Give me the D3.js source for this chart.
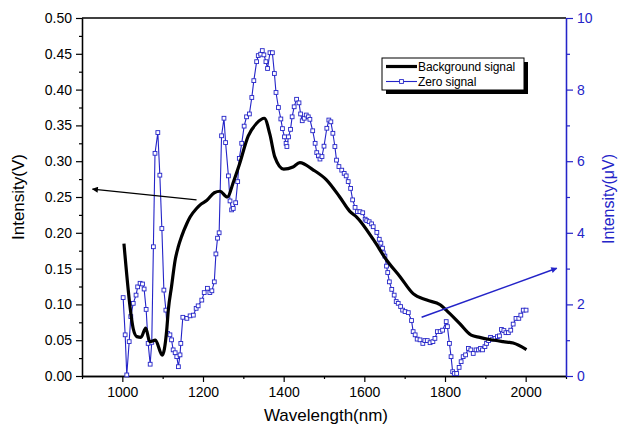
<!DOCTYPE html>
<html>
<head>
<meta charset="utf-8">
<script src="https://cdn.jsdelivr.net/npm/d3@7"></script>
<style>
body { margin: 0; background: #fff; }
text { font-family: Arial, "Liberation Sans", sans-serif; }
</style>
</head>
<body>
<div id="chart"></div>
<script>
var width = 622,
	height = 436;
var margin = {left: 82, right: 56, top: 18, bottom: 60};
var blue = '#2424c8';

// Background signal (V), left axis
var bgWave = [1004, 1021, 1027, 1036, 1046, 1058, 1068, 1082, 1099, 1110, 1114, 1122, 1131, 1139, 1147, 1160,
	1168, 1184, 1193, 1209, 1228, 1242, 1260, 1276, 1290, 1312, 1333, 1352, 1366, 1378, 1400, 1423, 1440, 1473,
	1506, 1539, 1564, 1581, 1623, 1655, 1688, 1721, 1755, 1788, 1803, 1836, 1865, 1886, 1911, 1944, 1969, 2002];
var bgSignal = [0.185, 0.088, 0.066, 0.055, 0.054, 0.067, 0.048, 0.050, 0.029, 0.064, 0.092, 0.125, 0.162, 0.181, 0.195, 0.213,
	0.222, 0.234, 0.239, 0.245, 0.256, 0.258, 0.250, 0.272, 0.295, 0.335, 0.353, 0.360, 0.337, 0.306, 0.289, 0.292, 0.298, 0.288,
	0.274, 0.250, 0.230, 0.222, 0.190, 0.162, 0.139, 0.115, 0.106, 0.0995, 0.092, 0.0735, 0.057, 0.054, 0.051, 0.048, 0.046, 0.037];

// Zero signal (uV), right axis
var zeroWave = [1002, 1007, 1011, 1017, 1021, 1027, 1034, 1038, 1044, 1050, 1054, 1059, 1064, 1069, 1073, 1077, 1081, 1088,
	1093, 1098, 1103, 1108, 1112, 1118, 1122, 1126, 1131, 1135, 1139, 1143, 1145, 1150, 1160, 1168, 1176, 1183, 1188, 1197,
	1203, 1211, 1217, 1222, 1228, 1232, 1236, 1240, 1246, 1252, 1256, 1263, 1267, 1271, 1275, 1281, 1286, 1290, 1296, 1302,
	1308, 1315, 1321, 1326, 1333, 1337, 1343, 1347, 1351, 1356, 1360, 1366, 1372, 1377, 1381, 1387, 1393, 1397, 1402, 1406,
	1408, 1412, 1417, 1421, 1426, 1432, 1438, 1442, 1446, 1451, 1456, 1461, 1465, 1472, 1478, 1482, 1486, 1490, 1495, 1500,
	1507, 1512, 1517, 1522, 1527, 1531, 1537, 1544, 1550, 1555, 1560, 1566, 1571, 1577, 1583, 1589, 1596, 1602, 1606, 1612,
	1618, 1622, 1631, 1637, 1641, 1645, 1647, 1651, 1655, 1658, 1662, 1668, 1674, 1679, 1684, 1690, 1695, 1701, 1709, 1717,
	1721, 1726, 1731, 1738, 1745, 1750, 1756, 1763, 1770, 1775, 1781, 1788, 1794, 1803, 1806, 1811, 1815, 1819, 1823, 1829,
	1835, 1840, 1845, 1851, 1858, 1864, 1870, 1877, 1883, 1888, 1893, 1899, 1903, 1908, 1913, 1918, 1924, 1930, 1935, 1940,
	1946, 1951, 1957, 1963, 1969, 1976, 1983, 1988, 1994, 2001];
var zeroSignal = [2.19, 1.15, 0.03, 0.96, 1.66, 2.03, 2.26, 2.49, 2.59, 2.57, 2.43, 1.86, 0.91, 0.33, 0.94, 3.61, 6.22, 6.80,
	5.61, 4.12, 2.40, 1.84, 1.19, 1.15, 1.01, 0.73, 0.65, 0.54, 0.26, 0.59, 0.91, 1.64, 1.61, 1.68, 1.70, 1.89, 1.96, 2.12,
	2.33, 2.45, 2.33, 2.38, 2.63, 3.41, 3.85, 4.00, 6.71, 7.20, 6.52, 5.59, 4.89, 4.64, 4.68, 4.84, 5.43, 6.08, 6.50, 6.98,
	7.24, 7.32, 7.78, 8.25, 8.78, 8.95, 8.99, 9.09, 8.97, 8.78, 8.59, 9.03, 9.03, 8.45, 7.92, 7.50, 7.18, 6.91, 6.68, 6.50,
	6.41, 6.68, 6.89, 7.24, 7.52, 7.73, 7.63, 7.32, 7.13, 7.20, 7.29, 7.24, 7.17, 6.85, 6.50, 6.24, 6.15, 6.06, 6.13, 6.42,
	6.92, 7.15, 7.10, 6.78, 6.41, 6.03, 5.85, 5.75, 5.66, 5.59, 5.43, 5.24, 4.92, 4.71, 4.59, 4.59, 4.56, 4.38, 4.34, 4.31,
	4.25, 4.17, 4.01, 3.82, 3.71, 3.57, 3.44, 3.35, 3.07, 2.89, 2.63, 2.42, 2.26, 2.08, 2.03, 1.94, 1.84, 1.80, 1.77, 1.55,
	1.24, 1.15, 1.03, 1.01, 0.91, 0.99, 0.99, 0.93, 0.96, 1.05, 1.24, 1.24, 1.28, 1.52, 1.38, 0.91, 0.54, 0.12, 0.07, 0.07,
	0.24, 0.40, 0.54, 0.59, 0.77, 0.73, 0.63, 0.73, 0.73, 0.77, 0.73, 0.82, 0.91, 0.99, 1.08, 1.03, 1.05, 1.10, 1.12, 1.30,
	1.27, 1.21, 1.21, 1.28, 1.45, 1.61, 1.61, 1.70, 1.84, 1.84];

var xTicks = [1000, 1200, 1400, 1600, 1800, 2000];
var xMinor = [900, 1100, 1300, 1500, 1700, 1900, 2100];
var leftTicks = [0, 0.05, 0.10, 0.15, 0.20, 0.25, 0.30, 0.35, 0.40, 0.45, 0.50];
var leftMinor = [0.025, 0.075, 0.125, 0.175, 0.225, 0.275, 0.325, 0.375, 0.425, 0.475];
var rightTicks = [0, 2, 4, 6, 8, 10];
var rightMinor = [1, 3, 5, 7, 9];

// arrows, [wavelength, value] start -> end
var bgArrow = [[1184, 0.246], [926, 0.261]];
var zeroArrow = [[1742, 1.64], [2077, 3.01]];
var legendNames = ['Background signal', 'Zero signal'];

var x = d3.scaleLinear().domain([900, 2100]).range([margin.left, width - margin.right]);
var yL = d3.scaleLinear().domain([0, 0.5]).range([height - margin.bottom, margin.top]);
var yR = d3.scaleLinear().domain([0, 10]).range([height - margin.bottom, margin.top]);

var svg = d3.select('#chart').append('svg')
	.attr('width', width)
	.attr('height', height);

var defs = svg.append('defs');
function arrowHead(id, color){
	defs.append('marker')
		.attr('id', id)
		.attr('viewBox', '0 0 10 10')
		.attr('refX', 9).attr('refY', 5)
		.attr('markerWidth', 9).attr('markerHeight', 6)
		.attr('markerUnits', 'userSpaceOnUse')
		.attr('orient', 'auto')
		.append('path')
		.attr('d', 'M0,0L10,5L0,10Z')
		.attr('fill', color);
}
arrowHead('headBlack', '#000');
arrowHead('headBlue', blue);

var bottom = height - margin.bottom;

// axes
function styleAxis(g, color, size){
	g.selectAll('path').attr('stroke', color).attr('stroke-width', 1.3);
	g.selectAll('line').attr('stroke', color).attr('stroke-width', 1.2);
	g.selectAll('text').attr('fill', color).style('font-size', size + 'px')
		.style('font-family', 'Arial, "Liberation Sans", sans-serif');
}

var gx = svg.append('g').attr('transform', 'translate(0,' + bottom + ')')
	.call(d3.axisBottom(x).tickValues(xTicks).tickSize(6).tickSizeOuter(0).tickPadding(5).tickFormat(d3.format('d')));
styleAxis(gx, '#000', 14);
var gxm = svg.append('g').attr('transform', 'translate(0,' + bottom + ')')
	.call(d3.axisBottom(x).tickValues(xMinor).tickSize(3).tickSizeOuter(0).tickFormat(''));
styleAxis(gxm, '#000', 14);

var gl = svg.append('g').attr('transform', 'translate(' + margin.left + ',0)')
	.call(d3.axisLeft(yL).tickValues(leftTicks).tickSize(6).tickSizeOuter(0).tickPadding(4).tickFormat(d3.format('.2f')));
styleAxis(gl, '#000', 14);
var glm = svg.append('g').attr('transform', 'translate(' + margin.left + ',0)')
	.call(d3.axisLeft(yL).tickValues(leftMinor).tickSize(3).tickSizeOuter(0).tickFormat(''));
styleAxis(glm, '#000', 14);

// top frame
svg.append('line')
	.attr('x1', x(900)).attr('x2', x(2100))
	.attr('y1', yL(0.5)).attr('y2', yL(0.5))
	.attr('stroke', '#000').attr('stroke-width', 1.3);

var gr = svg.append('g').attr('transform', 'translate(' + (width - margin.right) + ',0)')
	.call(d3.axisRight(yR).tickValues(rightTicks).tickSize(7).tickSizeOuter(0).tickPadding(4));
styleAxis(gr, blue, 14);
var grm = svg.append('g').attr('transform', 'translate(' + (width - margin.right) + ',0)')
	.call(d3.axisRight(yR).tickValues(rightMinor).tickSize(4).tickSizeOuter(0).tickFormat(''));
styleAxis(grm, blue, 14);

// axis titles
svg.append('text')
	.attr('x', (x(900) + x(2100)) / 2 + 2).attr('y', 421)
	.attr('text-anchor', 'middle')
	.style('font-size', '17px')
	.text('Wavelength(nm)');
svg.append('text')
	.attr('transform', 'translate(24,' + 197 + ') rotate(-90)')
	.attr('text-anchor', 'middle')
	.style('font-size', '17px')
	.text('Intensity(V)');
svg.append('text')
	.attr('transform', 'translate(614,' + 199 + ') rotate(-90)')
	.attr('text-anchor', 'middle')
	.attr('fill', blue)
	.style('font-size', '16px')
	.text('Intensity(\u03BCV)');

// zero signal series
var zeroData = zeroWave.map(function(d, i){ return [d, zeroSignal[i]]; });
svg.append('path')
	.datum(zeroData)
	.attr('fill', 'none')
	.attr('stroke', blue)
	.attr('stroke-width', 1.1)
	.attr('d', d3.line().x(function(d){ return x(d[0]); }).y(function(d){ return yR(d[1]); }));
svg.selectAll('rect.pt')
	.data(zeroData)
	.enter().append('rect')
	.attr('class', 'pt')
	.attr('x', function(d){ return x(d[0]) - 1.9; })
	.attr('y', function(d){ return yR(d[1]) - 1.9; })
	.attr('width', 3.8).attr('height', 3.8)
	.attr('fill', '#fff')
	.attr('stroke', blue)
	.attr('stroke-width', 0.9);

// background signal series
var bgData = bgWave.map(function(d, i){ return [d, bgSignal[i]]; });
svg.append('path')
	.datum(bgData)
	.attr('fill', 'none')
	.attr('stroke', '#000')
	.attr('stroke-width', 3.2)
	.attr('stroke-linejoin', 'round')
	.attr('d', d3.line().curve(d3.curveMonotoneX).x(function(d){ return x(d[0]); }).y(function(d){ return yL(d[1]); }));

// arrows
svg.append('line')
	.attr('x1', x(bgArrow[0][0])).attr('y1', yL(bgArrow[0][1]))
	.attr('x2', x(bgArrow[1][0])).attr('y2', yL(bgArrow[1][1]))
	.attr('stroke', '#000').attr('stroke-width', 1.3)
	.attr('marker-end', 'url(#headBlack)');
svg.append('line')
	.attr('x1', x(zeroArrow[0][0])).attr('y1', yR(zeroArrow[0][1]))
	.attr('x2', x(zeroArrow[1][0])).attr('y2', yR(zeroArrow[1][1]))
	.attr('stroke', blue).attr('stroke-width', 1.5)
	.attr('marker-end', 'url(#headBlue)');

// legend
var lg = svg.append('g').attr('transform', 'translate(382,58)');
lg.append('rect').attr('x', 4).attr('y', 4).attr('width', 142).attr('height', 32).attr('fill', '#000');
lg.append('rect').attr('x', 0).attr('y', 0).attr('width', 142).attr('height', 32)
	.attr('fill', '#fff').attr('stroke', '#000').attr('stroke-width', 1);
lg.append('line').attr('x1', 4).attr('x2', 35).attr('y1', 8.5).attr('y2', 8.5)
	.attr('stroke', '#000').attr('stroke-width', 3.2);
lg.append('line').attr('x1', 4).attr('x2', 35).attr('y1', 23.5).attr('y2', 23.5)
	.attr('stroke', blue).attr('stroke-width', 1.1);
lg.append('rect').attr('x', 17.6).attr('y', 21.6).attr('width', 3.8).attr('height', 3.8)
	.attr('fill', '#fff').attr('stroke', blue).attr('stroke-width', 0.9);
lg.selectAll('text.lab')
	.data(legendNames)
	.enter().append('text')
	.attr('class', 'lab')
	.attr('x', 36)
	.attr('y', function(d, i){ return 12.5 + i * 15; })
	.style('font-size', '12px')
	.style('letter-spacing', '-0.1px')
	.text(function(d){ return d; });
</script>
</body>
</html>
